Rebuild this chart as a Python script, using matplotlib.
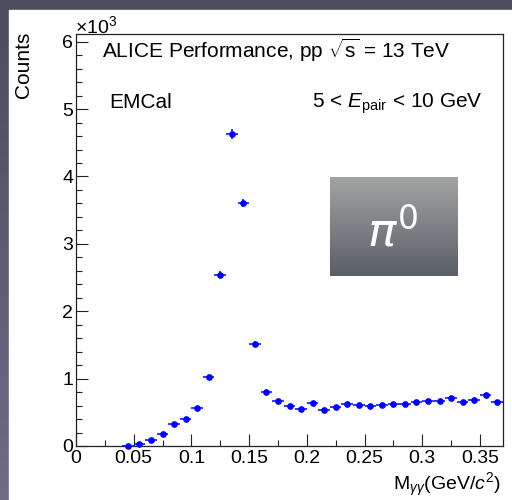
import numpy as np
import matplotlib.pyplot as plt
from matplotlib.patches import Rectangle
from matplotlib.ticker import MultipleLocator

plt.rcParams['font.family'] = ['Liberation Sans', 'DejaVu Sans']
plt.rcParams['mathtext.fontset'] = 'custom'
plt.rcParams['mathtext.rm'] = 'Liberation Sans'
plt.rcParams['mathtext.it'] = 'Liberation Sans:italic'

# bin centres of the invariant mass histogram (GeV/c^2)
mass = [0.045, 0.055, 0.065, 0.075, 0.085, 0.095, 0.105, 0.115, 0.125, 0.135,
        0.145, 0.155, 0.165, 0.175, 0.185, 0.195, 0.205, 0.215, 0.225, 0.235,
        0.245, 0.255, 0.265, 0.275, 0.285, 0.295, 0.305, 0.315, 0.325, 0.335,
        0.345, 0.355, 0.365]
counts = [0, 30, 90, 185, 320, 395, 570, 1025, 2545, 4630,
          3600, 1520, 800, 665, 600, 550, 645, 540, 585, 630,
          615, 595, 605, 630, 625, 650, 665, 665, 710, 660,
          680, 755, 655]
bin_half = 0.005
xtick_vals = [0, 0.05, 0.1, 0.15, 0.2, 0.25, 0.3, 0.35]
xtick_labels = ['0', '0.05', '0.1', '0.15', '0.2', '0.25', '0.3', '0.35']
ytick_vals = [0, 1, 2, 3, 4, 5, 6]
ytick_labels = ['0', '1', '2', '3', '4', '5', '6']

W, H = 512, 500
fig = plt.figure(figsize=(W / 100, H / 100), dpi=100)

# dark slide background with a white panel
bg = fig.add_axes([0, 0, 1, 1])
grad = np.linspace(0, 1, 256).reshape(-1, 1)
top_c = np.array([0x4b, 0x4c, 0x5e]) / 255
bot_c = np.array([0x6e, 0x6c, 0x86]) / 255
img = top_c + grad[..., None] * (bot_c - top_c)
bg.imshow(img.reshape(256, 1, 3), aspect='auto', extent=(0, 1, 0, 1), origin='upper')
bg.add_patch(Rectangle((9 / W, 0), 1, 1 - 10 / H, color='white'))
bg.set_xlim(0, 1)
bg.set_ylim(0, 1)
bg.axis('off')

x0, x1 = 76, 503
y0, y1 = 446, 34.3
ax = fig.add_axes([x0 / W, 1 - y0 / H, (x1 - x0) / W, (y0 - y1) / H])

y = np.array(counts) / 1000
yerr = np.sqrt(np.array(counts)) / 1000
ax.errorbar(mass, y, xerr=bin_half, yerr=yerr, fmt='o', color='#0000ff',
            ms=3.8, elinewidth=1.1, capsize=0, clip_on=False, zorder=3)

ax.set_xlim(0, 0.37)
ax.set_ylim(0, 6.11)
ax.xaxis.set_minor_locator(MultipleLocator(0.025))
ax.yaxis.set_minor_locator(MultipleLocator(0.2))
ax.set_xticks(xtick_vals)
ax.set_xticklabels(xtick_labels)
ax.set_yticks(ytick_vals)
ax.set_yticklabels(ytick_labels)
ax.tick_params(which='both', direction='in', colors='#222222', labelcolor='black',
               labelsize=14, width=0.8)
ax.tick_params(which='major', length=8.6)
ax.tick_params(which='minor', length=4.3)
ax.tick_params(axis='x', pad=3)
ax.tick_params(axis='y', pad=2)
for s in ax.spines.values():
    s.set_color('#222222')
    s.set_linewidth(0.9)

fig.text(75 / W, 1 - 33 / H, r'$\times$10$^{3}$', fontsize=14, ha='left', va='baseline')
fig.text(23 / W, 1 - 32 / H, 'Counts', rotation=90, ha='center', va='top', fontsize=15)
fig.text(500 / W, 1 - 490 / H, r'M$_{\gamma\gamma}$(GeV/$c^{2}$)', ha='right',
         va='baseline', fontsize=14)

fig.text(102 / W, 1 - 58.5 / H, r'ALICE Performance, pp $\sqrt{\mathrm{s}}$ = 13 TeV',
         fontsize=15, ha='left', va='baseline')
fig.text(109 / W, 1 - 108 / H, 'EMCal', fontsize=15, ha='left', va='baseline')
fig.text(483 / W, 1 - 108 / H, r'5 < $E_{\mathrm{pair}}$ < 10 GeV', fontsize=15,
         ha='right', va='baseline')

# pi0 label box with shadow and gradient
bx0, bx1, by0, by1 = 330, 458, 177, 276
for k, a in zip([10, 8, 6, 4, 2], [0.03, 0.04, 0.05, 0.07, 0.09]):
    bg.add_patch(Rectangle(((bx0 - k) / W, 1 - (by1 + k + 2) / H),
                           (bx1 - bx0 + 2 * k) / W, (by1 - by0 + 2 * k) / H,
                           color='black', alpha=a, lw=0, zorder=5))
box = fig.add_axes([bx0 / W, 1 - by1 / H, (bx1 - bx0) / W, (by1 - by0) / H])
g = np.linspace(0, 1, 128).reshape(-1, 1)
c_top = np.array([0xa2, 0xa4, 0xa4]) / 255
c_bot = np.array([0x5a, 0x5e, 0x66]) / 255
gimg = c_top + g[..., None] * (c_bot - c_top)
box.imshow(gimg.reshape(128, 1, 3), aspect='auto', extent=(0, 1, 0, 1), origin='upper')
box.set_xlim(0, 1)
box.set_ylim(0, 1)
box.axis('off')
box.text(0.49, 0.44, r'$\pi^{0}$', color='white', fontsize=34, ha='center', va='center',
         family='DejaVu Sans', math_fontfamily='dejavusans')

fig.savefig('out.png', dpi=100)
